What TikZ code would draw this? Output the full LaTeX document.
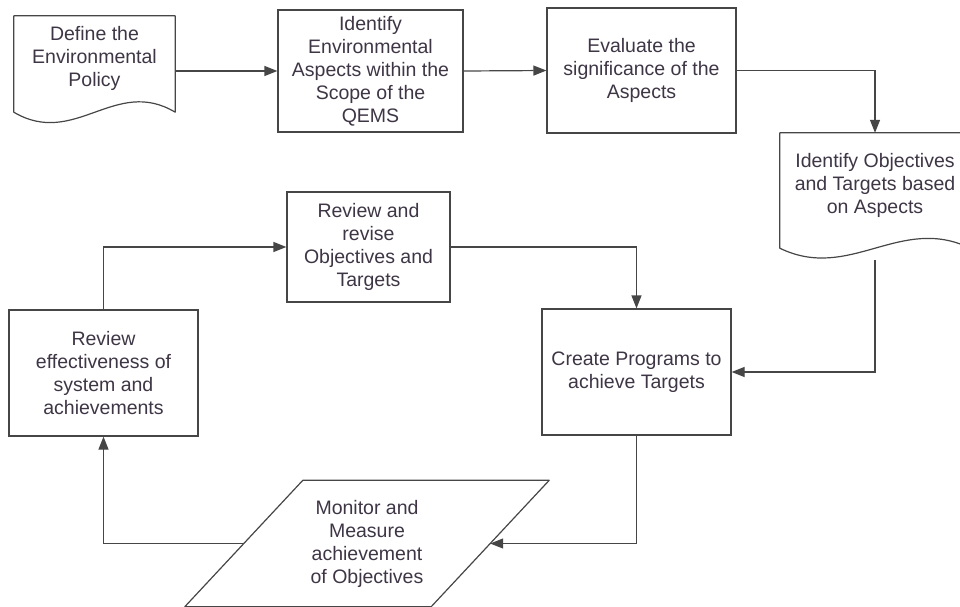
\documentclass[tikz,border=0pt]{standalone}
\usepackage{fontspec}
\setmainfont{Liberation Sans}
\usetikzlibrary{arrows.meta}
\definecolor{linegray}{HTML}{464646}
\definecolor{textgray}{HTML}{3E3545}

\begin{document}
\begin{tikzpicture}[
    x=1pt, y=-1pt,
    >={Triangle[length=13pt,width=10pt]},
    every node/.style={
      font=\fontsize{19.5}{23}\selectfont,
      text=textgray,
      align=center,
      inner sep=0pt,
    },
    process/.style={
      rectangle,
      draw=linegray,
      line width=1.2pt,
    },
    docnode/.style={
      rectangle,
    },
    docline/.style={
      draw=linegray,
      line width=1.2pt,
      line join=round,
    },
    flow/.style={
      ->,
      draw=linegray,
      line width=1.2pt,
    },
  ]
  \useasboundingbox (0,0) rectangle (960,606);

  % top row
  \node[docnode, minimum width=161pt, minimum height=84pt] (policy) at (94.5,58)
    {Define the\\Environmental\\Policy};
  \node[process, minimum width=185pt, minimum height=122pt] (aspects) at (370.5,71)
    {Identify\\Environmental\\Aspects within the\\Scope of the\\QEMS};
  \node[process, minimum width=189pt, minimum height=125pt] (significance) at (641.5,70.5)
    {Evaluate the\\significance of the\\Aspects};
  \node[docnode, minimum width=190pt, minimum height=104pt] (objectives) at (875,185)
    {Identify Objectives\\and Targets based\\on Aspects};

  % the loop
  \node[process, minimum width=163pt, minimum height=110pt] (revise) at (368.5,247)
    {Review and\\revise\\Objectives and\\Targets};
  \node[process, minimum width=189pt, minimum height=126pt] (programs) at (636.5,372)
    {Create Programs to\\achieve Targets};
  \node[process, minimum width=189pt, minimum height=126pt] (effectiveness) at (103.5,373)
    {Review\\effectiveness of\\system and\\achievements};
  \node[docnode, minimum width=246pt, minimum height=126pt] (monitor) at (367,543.5)
    {Monitor and\\Measure\\achievement\\of Objectives};

  % wavy documents and the slanted data box
  \draw[docline] (policy.north west) -- (policy.north east) -- ([yshift=-12pt]policy.south east)
    .. controls +(-60,-36) and +(61,36) .. ([yshift=-12pt]policy.south west) -- cycle;
  \draw[docline] (objectives.north west) -- (objectives.north east) -- ([yshift=-11pt]objectives.south east)
    .. controls +(-70,-34) and +(70,34) .. ([yshift=-11pt]objectives.south west) -- cycle;
  \draw[docline] ([xshift=59pt]monitor.north west) -- ([xshift=59pt]monitor.north east)
    -- ([xshift=-59pt]monitor.south east) -- ([xshift=-59pt]monitor.south west) -- cycle;

  \draw[flow] (aspects.west -| policy.east) -- (aspects.west);
  \draw[flow] (aspects.east) -- (significance.west);
  \draw[flow] (significance.east) -| (objectives.north);
  \draw[flow] ([yshift=-23pt]objectives.south) |- (programs.east);
  \draw[flow] (revise.east) -| (programs.north);
  \draw[flow] (programs.south) |- (monitor.east);
  \draw[flow] (monitor.west) -| (effectiveness.south);
  \draw[flow] (effectiveness.north) |- (revise.west);
\end{tikzpicture}
\end{document}
